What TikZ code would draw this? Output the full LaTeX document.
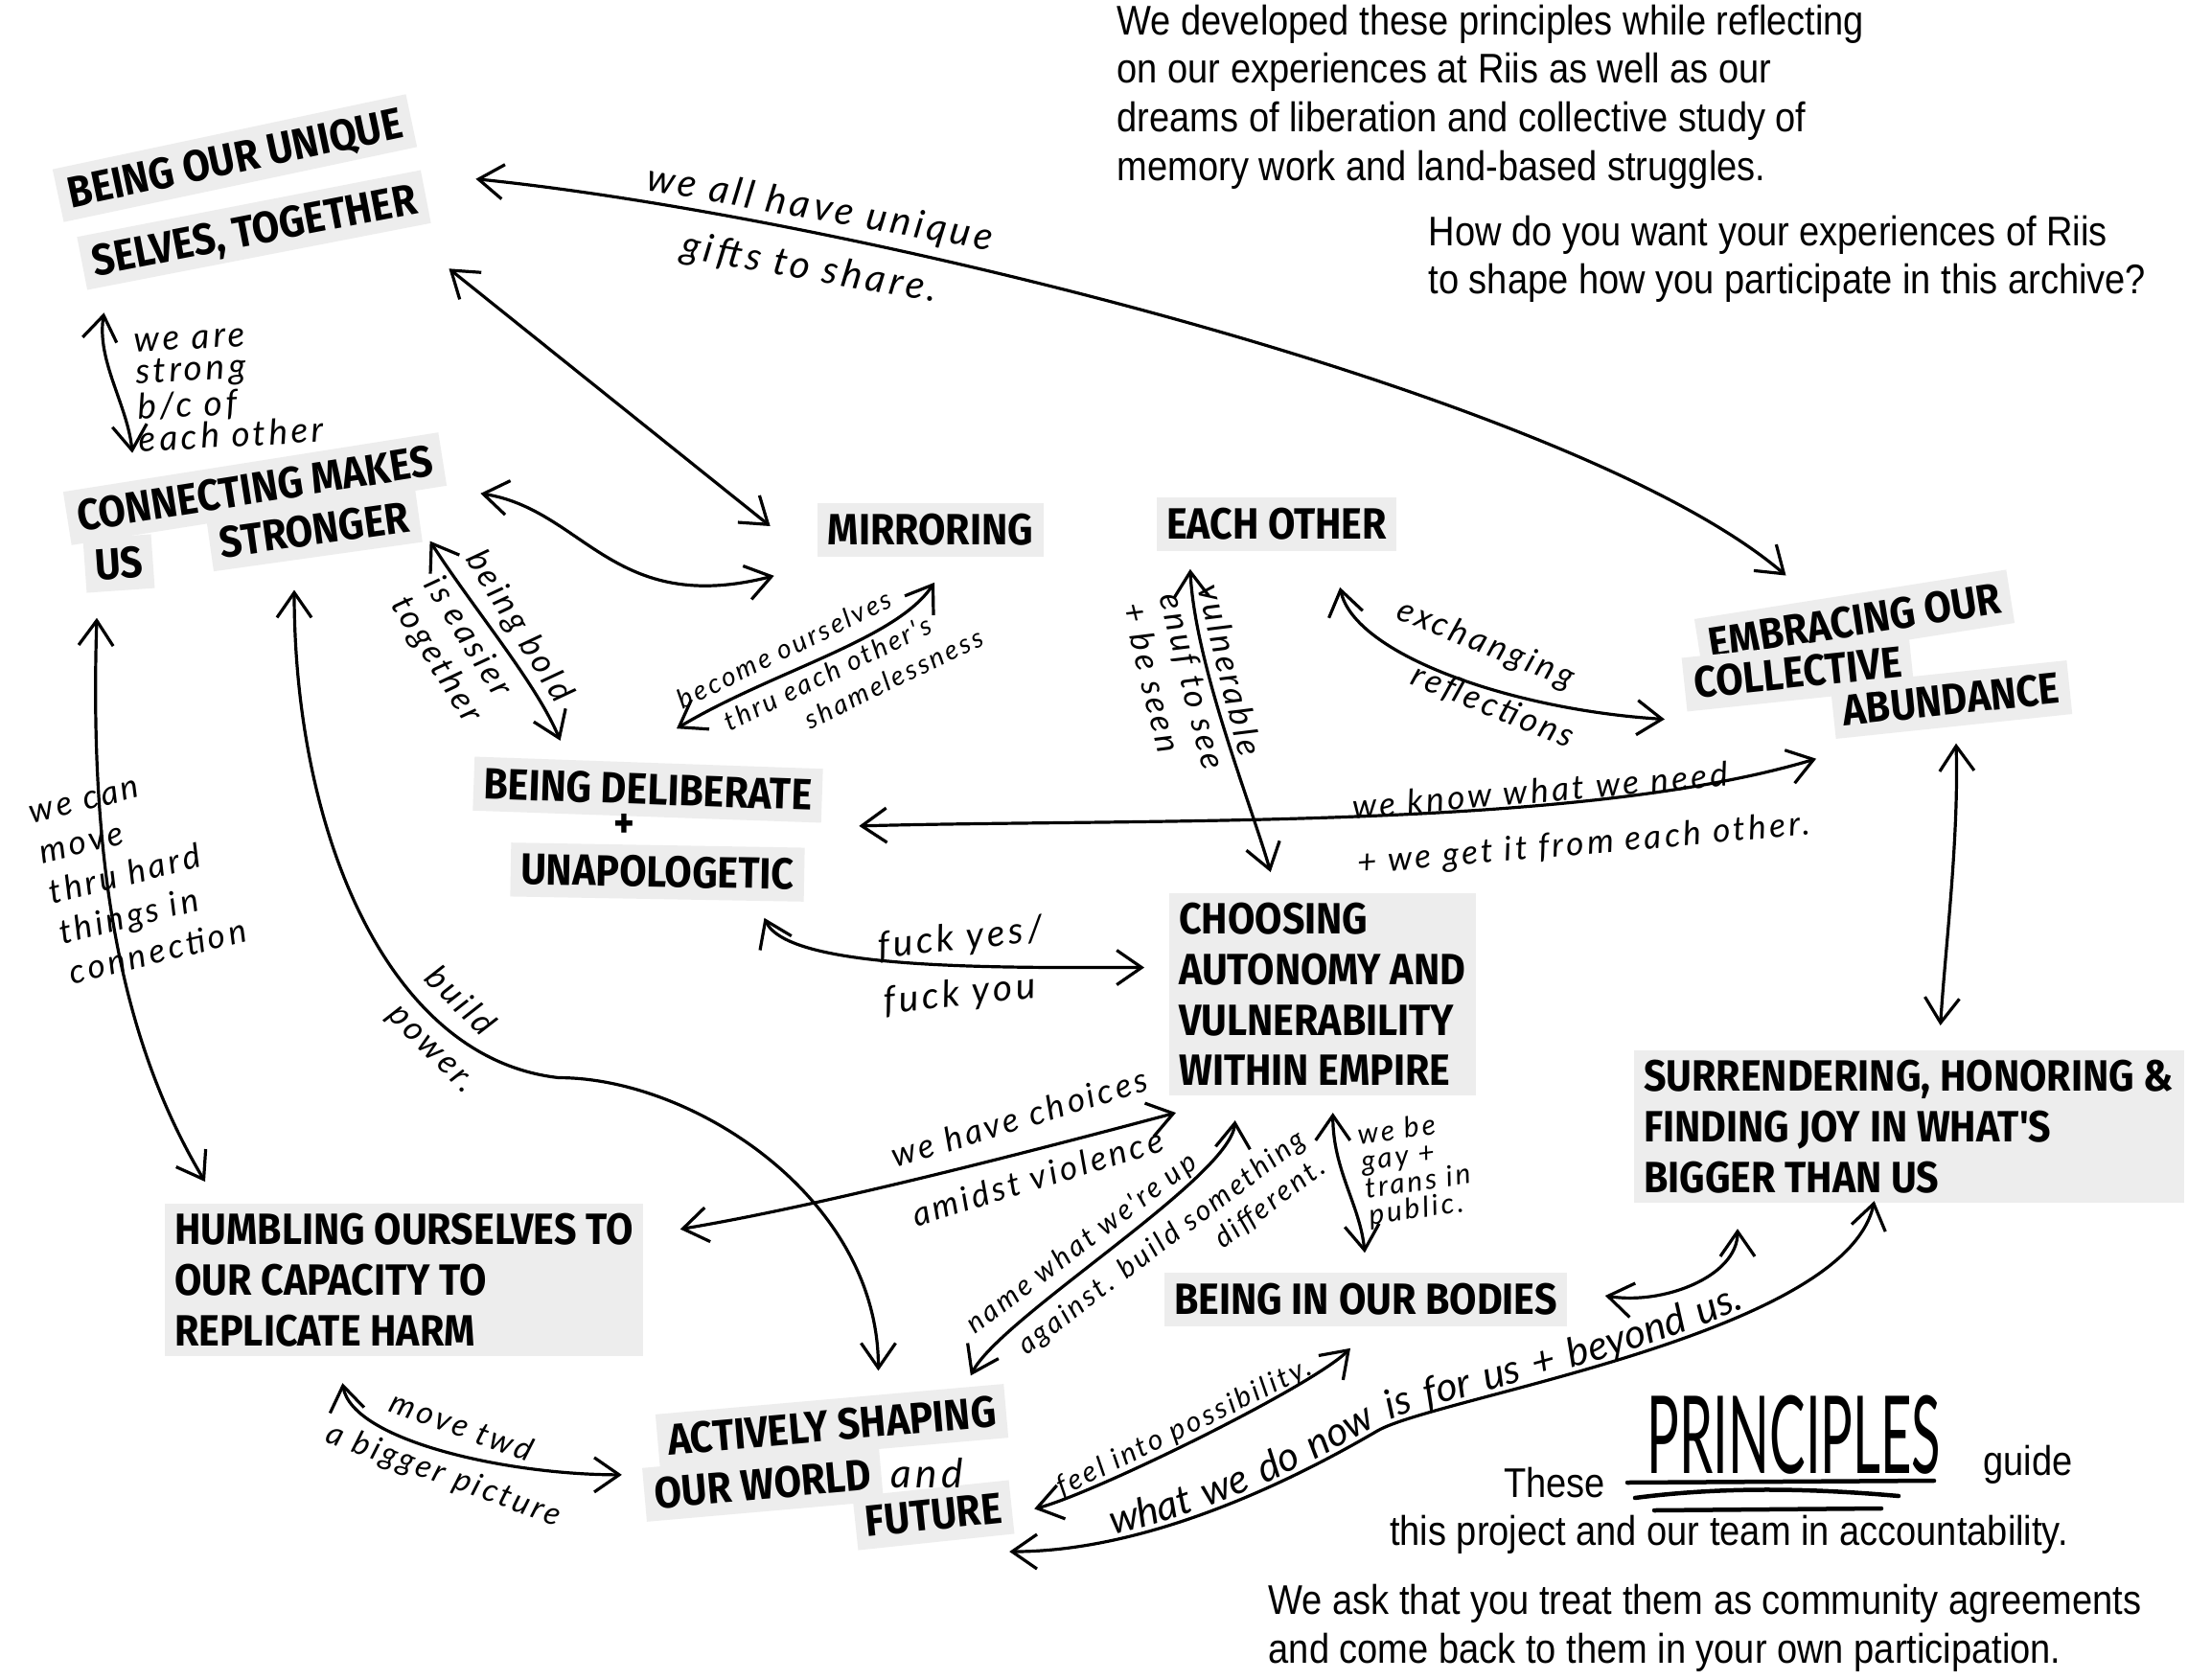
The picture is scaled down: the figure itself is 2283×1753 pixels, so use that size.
\documentclass[tikz,border=0pt]{standalone}
\usepackage{fontspec}
\usepackage{tikz}
\usetikzlibrary{arrows.meta, decorations.text}

\newfontfamily\boxfont[FakeStretch=0.9]{Fira Sans}
\newfontfamily\printfont[FakeStretch=0.88]{Liberation Sans}
\newfontfamily\handfont[LetterSpace=10]{Lato}
\newfontfamily\tallfont[FakeStretch=0.5]{Lato}
\newcommand\handsize[2]{\handfont\itshape\fontsize{#1}{#2}\selectfont}

\begin{document}
\begin{tikzpicture}[x=0.1mm, y=-0.1mm, line cap=round,
    >={Straight Barb[length=2.6mm,width=3.6mm]},
    strip/.style={fill=black!7, inner xsep=3pt, inner ysep=3pt, text height=9.4pt, text depth=0.6pt,
      font=\boxfont\bfseries\fontsize{13}{15}\selectfont},
    block/.style={fill=black!7, inner xsep=3pt, inner ysep=3pt, align=left,
      font=\boxfont\bfseries\fontsize{13}{15}\selectfont},
    hand/.style={font=\handsize{10}{11.5}, align=center, inner sep=0pt},
    print/.style={font=\printfont\fontsize{12.3}{14.5}\selectfont, align=left, inner sep=0pt},
    link/.style={<->, line width=0.32mm}]

    \fill[white] (0,0) rectangle (2283,1753);
    \useasboundingbox (0,0) rectangle (2283,1753);

    % paper strips
    \node[strip, rotate=12] (uniq) at (245,165) {BEING OUR UNIQUE};
    \node[strip, rotate=11] (selves) at (265,240) {SELVES, TOGETHER};
    \node[strip, rotate=9] (connect) at (266,510) {CONNECTING MAKES};
    \node[strip, rotate=4] (us) at (124,588) {US};
    \node[strip, rotate=8] (stronger) at (328,553) {STRONGER};
    \node[strip] (mirror) at (971,553) {MIRRORING};
    \node[strip] (eachother) at (1332,547) {EACH OTHER};
    \node[strip, rotate=9] (embrace) at (1935,648) {EMBRACING OUR};
    \node[strip, rotate=6] (abund) at (2036,730) {ABUNDANCE};
    \node[strip, rotate=6] (collect) at (1876,702) {COLLECTIVE};
    \node[strip, rotate=-2] (delib) at (676,824) {BEING DELIBERATE};
    \node[font=\boxfont\bfseries\fontsize{13}{15}\selectfont] (plus) at (651,862) {+};
    \node[strip, rotate=-1] (unapol) at (686,910) {UNAPOLOGETIC};
    \node[block, anchor=north west] (choose) at (1219,931) {CHOOSING\\AUTONOMY AND\\VULNERABILITY\\WITHIN EMPIRE};
    \node[block, anchor=north west] (surr) at (1704,1095) {SURRENDERING, HONORING \&\\FINDING JOY IN WHAT'S\\BIGGER THAN US};
    \node[block, anchor=north west] (humble) at (171,1255) {HUMBLING OURSELVES TO\\OUR CAPACITY TO\\REPLICATE HARM};
    \node[strip] (bodies) at (1425,1356) {BEING IN OUR BODIES};
    \node[strip, rotate=5] (active) at (868,1488) {ACTIVELY SHAPING};
    \node[strip, rotate=5] (world) at (796,1549) {OUR WORLD};
    \node[strip, rotate=6] (future) at (974,1581) {FUTURE};
    \node[hand, font=\handsize{12}{14}] (and) at (967,1537) {and};

    % printed notes
    \node[print, anchor=north west] (dev) at (1165,4) {We developed these principles while reflecting\\on our experiences at Riis as well as our\\dreams of liberation and collective study of\\memory work and land-based struggles.};
    \node[print, anchor=north west] (how) at (1490,224) {How do you want your experiences of Riis\\to shape how you participate in this archive?};
    \node[print] (these) at (1622,1547) {These};
    \node[font=\tallfont\fontsize{32}{34}\selectfont, inner sep=0pt] (princ) at (1872,1497) {PRINCIPLES};
    \node[print] (guide) at (2116,1528) {guide};
    \node[print] (proj) at (1804,1601) {this project and our team in accountability.};
    \node[print, anchor=north west] (ask) at (1323,1652) {We ask that you treat them as community agreements\\and come back to them in your own participation.};
    \draw[line width=0.45mm] (1698,1547) -- (2018,1545);
    \draw[line width=0.45mm] (1706,1563) .. controls (1790,1552) and (1880,1552) .. (1981,1561);
    \draw[line width=0.45mm] (1726,1576) -- (1963,1574);

    % handwritten notes
    \node[hand, rotate=-10, font=\handsize{11.5}{13}] (gifts) at (850,250) {we all have unique\\[5pt]gifts to share.};
    \node[hand, align=left, anchor=west, rotate=3, font=\handsize{10.5}{9.5}] (strong) at (142,410) {we are\\strong\\b/c of\\each other};
    \node[hand, align=left, rotate=-58] (bold) at (502,678) {being bold\\[3pt]is easier\\together};
    \node[hand, align=left, rotate=26, font=\handsize{8}{10}] (shame) at (866,697) {become ourselves\\[2pt]\hspace*{3.4mm}thru each other's\\\hspace*{11mm}shamelessness};
    \node[hand, align=left, anchor=west, rotate=14, font=\handsize{10}{12.3}] (hard) at (52,935) {we can\\move\\thru hard\\things in\\connection};
    \node[hand, align=left, rotate=-45] (power) at (470,1075) {build\\[4pt]power.};
    \node[hand, align=left, rotate=6, font=\handsize{11}{12.5}] (yes) at (1005,1009) {fuck yes/\\[4pt]fuck you};
    \node[hand, align=left, rotate=5] (need) at (1650,853) {we know what we need\\[5pt]+ we get it from each other.};
    \node[hand, align=left, rotate=-76] (seen) at (1245,711) {vulnerable\\enuf to see\\+ be seen};
    \node[hand, align=left, rotate=-22] (refl) at (1550,703) {exchanging\\[5pt]\hspace*{4mm}reflections};
    \node[hand, rotate=17] (choices) at (1073,1197) {we have choices\\[7pt]amidst violence};
    \node[hand, align=left, rotate=37, font=\handsize{8.5}{10}] (against) at (1196,1300) {name what we're up\\[4pt]\hspace*{3mm}against. build something\\\hspace*{26mm}different.};
    \node[hand, align=left, anchor=west, rotate=8, font=\handsize{8.5}{8}] (gay) at (1422,1228) {we be\\gay +\\trans in\\public.};
    \node[hand, rotate=-20, font=\handsize{9.5}{11}] (bigger) at (472,1515) {move twd\\[4pt]a bigger picture};
    \node[hand, rotate=26, font=\handsize{8.5}{10}] (possib) at (1236,1490) {feel into possibility.};

    % connectors
    \draw[link] ([shift={(57,10)}]selves.north east) .. controls +(401,41) and +(-214,-184) .. ([shift={(-67,-19)}]embrace.north);
    \draw[link] ([shift={(18,47)}]selves.south east) -- ([shift={(-49,-4)}]mirror.west);
    \draw[link] ([shift={(18,23)}]selves.south west) .. controls +(-8,50) and +(-5,-50) .. ([shift={(73,-40)}]connect.north west);
    \draw[link] ([shift={(39,36)}]connect.east) .. controls +(108,17) and +(-168,43) .. ([shift={(-45,19)}]mirror.south west);
    \draw[link] ([shift={(11,27)}]stronger.east) .. controls +(45,70) and +(-25,-60) .. ([shift={(90,-16)}]delib.north west);
    \draw[link] ([shift={(29,-35)}]delib.north) .. controls +(100,-60) and +(-40,60) .. ([shift={(4,26)}]mirror.south);
    \draw[link] ([shift={(-25,28)}]us.south) .. controls +(-8,250) and +(-90,-150) .. ([shift={(43,-22)}]humble.north west);
    \draw[link] ([shift={(-25,34)}]stronger.south) .. controls +(0,250) and +(-180,-20) .. ++(276,509)
        .. controls +(140,0) and +(0,-180) .. ([shift={(51,-29)}]active.north);
    \draw[link] ([shift={(112,19)}]unapol.south) .. controls +(25,55) and +(-150,0) .. ([shift={(-25,-28)}]choose.west);
    \draw[link] ([shift={(56,-22)}]unapol.north east) .. controls +(300,-8) and +(-250,75) .. ([shift={(-20,20)}]abund.south west);
    \draw[link] ([shift={(36,18)}]eachother.south west) .. controls +(5,100) and +(-20,-70) .. ([shift={(-54,-21)}]choose.north);
    \draw[link] ([shift={(-60,37)}]eachother.south east) .. controls +(15,70) and +(-160,-10) .. ([shift={(-20,36)}]collect.west);
    \draw[link] ([shift={(2,17)}]abund.south) .. controls +(3,100) and +(5,-80) .. ([shift={(33,-25)}]surr.north);
    \draw[link] ([shift={(8,17)}]choose.south west) .. controls +(-150,40) and +(150,-25) .. ([shift={(38,-53)}]humble.east);
    \draw[link] ([shift={(-91,25)}]choose.south) .. controls +(-5,60) and +(30,-60) .. ([shift={(-35,-8)}]active.north east);
    \draw[link] ([shift={(11,17)}]choose.south) .. controls +(0,60) and +(-5,-50) .. ([shift={(-1,-20)}]bodies.north);
    \draw[link] ([shift={(39,-4)}]bodies.east) .. controls +(60,10) and +(0,50) .. ([shift={(109,26)}]surr.south west);
    \draw[link] ([shift={(-64,27)}]humble.south) .. controls +(10,60) and +(-120,0) .. ([shift={(-23,-21)}]world.west);
    \draw[link] ([shift={(23,2)}]future.east) .. controls +(60,-15) and +(-40,40) .. ([shift={(-16,22)}]bodies.south);
    \draw[link, postaction={decorate, decoration={text along path, raise=1.5pt, text align={left indent=11mm},
        text={|\handsize{12}{14}|what we do now is for us + beyond us.}}}]
        ([shift={(-6,18)}]future.south east) .. controls +(160,0) and +(-60,35) .. ++(384,-126)
        .. controls +(60,-35) and +(-30,140) .. ([shift={(-36,-3)}]surr.south);
\end{tikzpicture}
\end{document}
